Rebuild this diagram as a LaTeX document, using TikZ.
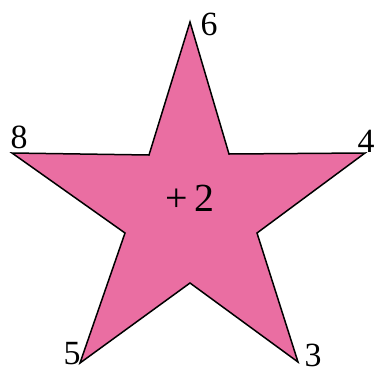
\documentclass[tikz,border=0pt]{standalone}
\usepackage{fontspec}
\setmainfont{Liberation Serif}
\definecolor{starpink}{RGB}{234,110,162}
\tikzset{
  corner/.style={font=\fontsize{34}{34}\selectfont, inner sep=0pt},
}
\begin{document}
\begin{tikzpicture}[x=1bp, y=-1bp]
  \useasboundingbox (0,0) rectangle (374,372);
  % outer tips and inner corners of the star
  \coordinate (tip6) at (190,22);
  \coordinate (in1) at (229,154);
  \coordinate (tip4) at (365,153);
  \coordinate (in2) at (257,233);
  \coordinate (tip3) at (298,362);
  \coordinate (in3) at (190,283);
  \coordinate (tip5) at (80,363);
  \coordinate (in4) at (125,233);
  \coordinate (tip8) at (12,153);
  \coordinate (in5) at (149,155);
  \filldraw[fill=starpink, draw=black, line width=1.5bp]
    (tip6) -- (in1) -- (tip4) -- (in2) -- (tip3) -- (in3)
    -- (tip5) -- (in4) -- (tip8) -- (in5) -- cycle;

  % numbers at the tips
  \node[corner] (n6) at (209,24) {6};
  \node[corner] (n8) at (19,137) {8};
  \node[corner] (n4) at (366,141) {4};
  \node[corner] (n5) at (72,354) {5};
  \node[corner] (n3) at (313,355) {3};
  \node[corner, font=\fontsize{40}{40}\selectfont] (mid) at (190,198) {+\,2};
\end{tikzpicture}
\end{document}
